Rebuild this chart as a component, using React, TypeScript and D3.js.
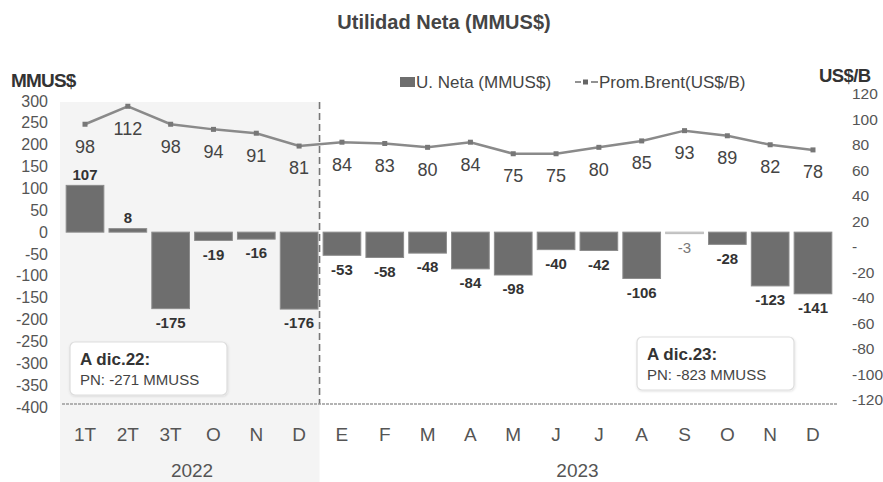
import * as d3 from "d3";

const categories = ["1T", "2T", "3T", "O", "N", "D", "E", "F", "M", "A", "M", "J", "J", "A", "S", "O", "N", "D"];
const yearOf = ["2022", "2022", "2022", "2022", "2022", "2022", "2023", "2023", "2023", "2023", "2023", "2023", "2023", "2023", "2023", "2023", "2023", "2023"];
const years = ["2022", "2023"];
const utilidad = [107, 8, -175, -19, -16, -176, -53, -58, -48, -84, -98, -40, -42, -106, -3, -28, -123, -141];
const brent = [98, 112, 98, 94, 91, 81, 84, 83, 80, 84, 75, 75, 80, 85, 93, 89, 82, 78];
const leftTicks = [300, 250, 200, 150, 100, 50, 0, -50, -100, -150, -200, -250, -300, -350, -400];
const rightTicks = [120, 100, 80, 60, 40, 20, 0, -20, -40, -60, -80, -100, -120];
const notes = [
  { title: "A dic.22:", text: "PN: -271 MMUSS" },
  { title: "A dic.23:", text: "PN: -823 MMUSS" },
];

const W = 883;
const H = 482;
const FONT = "'Liberation Sans', Arial, sans-serif";
const TXT = "#444";

const App = () => {
  const idx = categories.map((_, i) => i);
  const x = d3.scaleBand<number>().domain(idx).range([63.6, 834.4]).paddingInner(0.12).paddingOuter(0.06);
  const y = d3.scaleLinear().domain([-400, 300]).range([407, 101]);
  const y2 = d3.scaleLinear().domain([-120, 120]).range([404, 96]);
  // tick labels of the right axis sit a bit apart from the line's scale in the original
  const y2Ticks = d3.scaleLinear().domain([-120, 120]).range([400, 94]);
  const cx = (i: number) => (x(i) ?? 0) + x.bandwidth() / 2;

  const line = d3
    .line<number>()
    .x((_, i) => cx(i))
    .y((d) => y2(d));

  const split = (cx(5) + cx(6)) / 2 - 1;
  const plotLeft = 60;
  const plotRight = 838;
  const baseY = 404;

  const yearCenter = (yr: string) => {
    const ids = idx.filter((i) => yearOf[i] === yr);
    return (cx(ids[0]) + cx(ids[ids.length - 1])) / 2;
  };

  return (
    <svg width={W} height={H} style={{ position: "absolute", left: 0, top: 0, background: "#fff" }} fontFamily={FONT}>
      <defs>
        <filter id="sh" x="-5%" y="-10%" width="110%" height="130%">
          <feDropShadow dx="0.5" dy="1" stdDeviation="1" floodColor="#000" floodOpacity="0.12" />
        </filter>
      </defs>

      {/* 2022 shading */}
      <rect x={plotLeft} y={102} width={split - plotLeft} height={H - 102} fill="#f4f4f4" />

      <text x={444} y={29} textAnchor="middle" fontSize={20} fontWeight="bold" fill={TXT}>
        Utilidad Neta (MMUS$)
      </text>

      {/* axis titles */}
      <text x={11} y={87} fontSize={19} fontWeight="bold" fill="#333" letterSpacing={-0.8}>MMUS$</text>
      <text x={819} y={82} fontSize={18.5} fontWeight="bold" fill="#333" letterSpacing={-0.6}>US$/B</text>

      {/* legend */}
      <rect x={400} y={77} width={15} height={10} fill="#6e6e6e" />
      <text x={416} y={88} fontSize={17} fill={TXT}>U. Neta (MMUS$)</text>
      <line x1={575} x2={581} y1={82} y2={82} stroke="#777" strokeWidth={1.6} />
      <line x1={591} x2={598} y1={82} y2={82} stroke="#777" strokeWidth={1.6} />
      <rect x={583} y={79.5} width={5} height={5} fill="#666" />
      <text x={599} y={88} fontSize={17} fill={TXT}>Prom.Brent(US$/B)</text>

      {/* left axis */}
      {leftTicks.map((t) => (
        <text key={t} x={48} y={y(t)} dy="0.35em" textAnchor="end" fontSize={16} fill="#555">
          {t}
        </text>
      ))}
      {/* right axis */}
      {rightTicks.map((t) => (
        <text key={t} x={852} y={y2Ticks(t)} dy="0.35em" fontSize={15.5} fill="#555">
          {t === 0 ? "-" : t}
        </text>
      ))}

      {/* divider */}
      <line x1={split} x2={split} y1={102} y2={baseY} stroke="#777" strokeWidth={1.6} strokeDasharray="7,4" />

      {/* baseline */}
      <line x1={plotLeft + 2} x2={plotRight} y1={baseY} y2={baseY} stroke="#9a9a9a" strokeWidth={1.6} strokeDasharray="3,1" />

      {/* bars */}
      {utilidad.map((v, i) => {
        const faint = Math.abs(v) < 5;
        return (
          <rect
            key={i}
            x={x(i)}
            y={Math.min(y(v), y(0))}
            width={x.bandwidth()}
            height={Math.max(Math.abs(y(v) - y(0)), 1.5)}
            fill={faint ? "#d4d4d4" : "#6e6e6e"}
            stroke={faint ? "#bbb" : "#8c8c8c"}
            strokeWidth={1}
          />
        );
      })}
      {utilidad.map((v, i) => {
        const faint = Math.abs(v) < 5;
        return (
          <text
            key={i}
            x={cx(i)}
            y={v >= 0 ? y(v) - 11 : y(v) + 14}
            dy="0.35em"
            textAnchor="middle"
            fontSize={15}
            fontWeight={faint ? "normal" : "bold"}
            fill={faint ? "#777" : "#333"}
          >
            {v}
          </text>
        );
      })}

      {/* brent line */}
      <path d={line(brent) ?? ""} fill="none" stroke="#8a8a8a" strokeWidth={2.5} />
      {brent.map((v, i) => (
        <rect key={i} x={cx(i) - 2.5} y={y2(v) - 2.5} width={5} height={5} fill="#777" />
      ))}
      {brent.map((v, i) => (
        <text key={i} x={cx(i)} y={y2(v) + 22} dy="0.35em" textAnchor="middle" fontSize={18} fill="#444">
          {v}
        </text>
      ))}

      {/* notes */}
      {notes.map((n, k) => {
        const bx = k === 0 ? 70 : 637;
        const by = k === 0 ? 342 : 337;
        return (
          <g key={k}>
            <rect x={bx} y={by} width={157} height={53} rx={5} fill="#fff" stroke="#ddd" strokeWidth={1.2} filter="url(#sh)" />
            <text x={bx + 10} y={by + 23} fontSize={17} fontWeight="bold" fill="#333">{n.title}</text>
            <text x={bx + 10} y={by + 43} fontSize={15} fill="#444">{n.text}</text>
          </g>
        );
      })}

      {/* x labels */}
      {categories.map((c, i) => (
        <text key={i} x={cx(i)} y={434} dy="0.35em" textAnchor="middle" fontSize={19} fill="#555">
          {c}
        </text>
      ))}
      {years.map((yr) => (
        <text key={yr} x={yearCenter(yr)} y={470} dy="0.35em" textAnchor="middle" fontSize={19} fill="#555">
          {yr}
        </text>
      ))}
    </svg>
  );
};

export default App;
